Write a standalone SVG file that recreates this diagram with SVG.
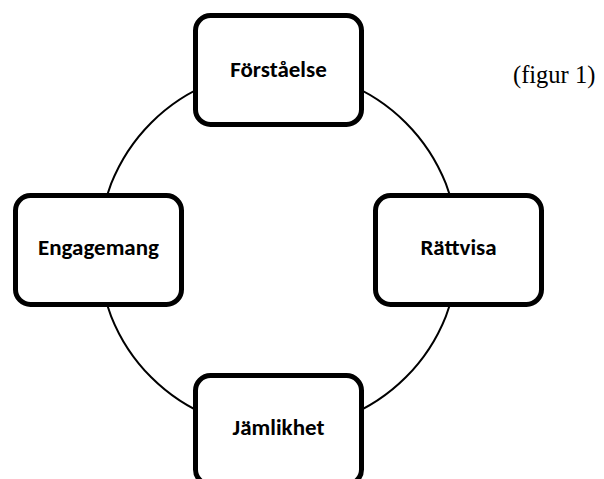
<svg xmlns="http://www.w3.org/2000/svg" width="604" height="479" viewBox="0 0 604 479">
<style>
.box{fill:#fff;stroke:#000;stroke-width:5}
.lbl{font-family:Carlito,Lato,"Open Sans",sans-serif;font-weight:bold;font-size:23px;text-anchor:middle;fill:#000}
.cap{font-family:"Liberation Serif","Times New Roman",serif;font-size:24.5px;fill:#000}
</style>
<rect width="604" height="479" fill="#fff"/>
<g id="connectors">
<circle cx="278.5" cy="250" r="180" fill="none" stroke="#000" stroke-width="2"/>
</g>
<g id="forstaelse">
<rect class="box" x="195.5" y="15.5" width="166" height="109" rx="15"/>
<text class="lbl" x="278.5" y="77">Förståelse</text>
</g>
<g id="engagemang">
<rect class="box" x="15.5" y="195.5" width="166" height="109" rx="15"/>
<text class="lbl" x="98.5" y="255">Engagemang</text>
</g>
<g id="rattvisa">
<rect class="box" x="375.5" y="195.5" width="166" height="109" rx="15"/>
<text class="lbl" x="458.5" y="255">Rättvisa</text>
</g>
<g id="jamlikhet">
<rect class="box" x="195.5" y="375.5" width="166" height="109" rx="15"/>
<text class="lbl" x="278.5" y="435">Jämlikhet</text>
</g>
<text class="cap" x="513" y="83">(figur 1)</text>
</svg>
